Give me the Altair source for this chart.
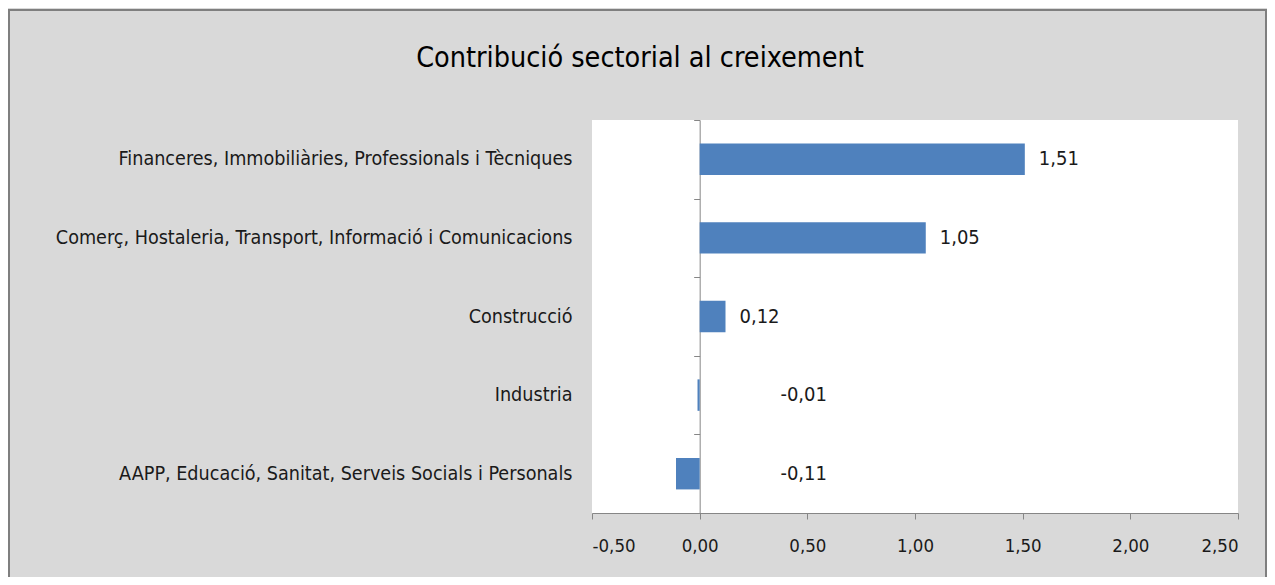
import altair as alt
import pandas as pd

categories = [
    "Financeres, Immobiliàries, Professionals i Tècniques",
    "Comerç, Hostaleria, Transport, Informació i Comunicacions",
    "Construcció ",
    "Industria",
    "AAPP, Educació, Sanitat, Serveis Socials i Personals",
]
values = [1.51, 1.05, 0.12, -0.01, -0.11]
x_ticks = [-0.5, 0.0, 0.5, 1.0, 1.5, 2.0, 2.5]
title_text = "Contribució sectorial al creixement"

df = pd.DataFrame({"sector": categories, "valor": values})

FONT = "DejaVu Sans Condensed"
W, H = 646, 393
GRAY = "#868686"
TXT = "#1a1a1a"
FS_CAT = 19.6
FS_TICK = 18.5
FS_LAB = 20

xscale = alt.Scale(domain=[-0.5, 2.5], nice=False, zero=False)
yscale = alt.Scale(domain=categories, paddingInner=0.6, paddingOuter=0.3)
yscale_band = alt.Scale(domain=categories, paddingInner=0, paddingOuter=0)
fmt = "replace(replace(format(datum.valor, '.2f'), '.', ','), '\u2212', '-')"

x_axis = alt.Axis(
    values=x_ticks,
    labelExpr="replace(replace(format(datum.value, '.2f'), '.', ','), '\u2212', '-')",
    domainColor=GRAY,
    tickColor=GRAY,
    tickSize=6,
    grid=False,
    labelFont=FONT,
    labelFontSize=FS_TICK,
    labelColor=TXT,
    labelPadding=17,
    title="",
)

base = alt.Chart(df)

bars = base.mark_bar(color="#4f81bd").encode(
    x=alt.X("valor:Q", scale=xscale, axis=x_axis),
    y=alt.Y(
        "sector:N",
        scale=yscale,
        sort=categories,
        axis=alt.Axis(
            ticks=False,
            domain=False,
            labelPadding=20,
            labelLimit=700,
            labelFont=FONT,
            labelFontSize=FS_CAT,
            labelColor=TXT,
            grid=False,
            title="",
        ),
    ),
)

zero_axis = base.mark_point(opacity=0).encode(
    x=alt.value(0),
    y=alt.Y(
        "sector:N",
        scale=yscale_band,
        sort=categories,
        axis=alt.Axis(
            orient="left",
            offset=-W * 0.5 / 3.0,
            labels=False,
            ticks=True,
            tickSize=6,
            tickBand="extent",
            tickColor=GRAY,
            domainColor=GRAY,
            grid=False,
            title="",
        ),
    ),
)

pos_labels = base.transform_filter("datum.valor >= 0").transform_calculate(
    lab=fmt
).mark_text(align="left", baseline="middle", dx=14, font=FONT, fontSize=FS_LAB, color=TXT).encode(
    x=alt.X("valor:Q", scale=xscale, axis=x_axis),
    y=alt.Y("sector:N", scale=yscale, sort=categories, axis=None),
    text="lab:N",
)

neg_labels = base.transform_filter("datum.valor < 0").transform_calculate(
    lab=fmt, zero="0"
).mark_text(align="center", baseline="middle", dx=104, font=FONT, fontSize=FS_LAB, color=TXT).encode(
    x=alt.X("zero:Q", scale=xscale, axis=x_axis),
    y=alt.Y("sector:N", scale=yscale, sort=categories, axis=None),
    text="lab:N",
)

deco = alt.Chart(pd.DataFrame({"t": [title_text]}))
border = deco.mark_rect(fillOpacity=0, stroke="#7f7f7f", strokeWidth=2).encode(
    x=alt.value(-583), x2=alt.value(674), y=alt.value(-110), y2=alt.value(700)
)
title = deco.mark_text(
    align="center", baseline="alphabetic", font=FONT, fontSize=28.5, color="#000000"
).encode(x=alt.value(48), y=alt.value(-53), text="t:N")

chart = (
    alt.layer(border, bars, zero_axis, pos_labels, neg_labels, title)
    .resolve_scale(y="independent")
    .resolve_axis(y="independent")
    .properties(
        width=W,
        height=H,
        padding={"left": 584, "top": 112, "right": 29, "bottom": 64},
        autosize=alt.AutoSizeParams(type="none"),
        background="#d9d9d9",
    )
    .configure_view(fill="white", strokeWidth=0)
)

chart.save("out.html", embed_options={"renderer": "svg", "actions": False})
